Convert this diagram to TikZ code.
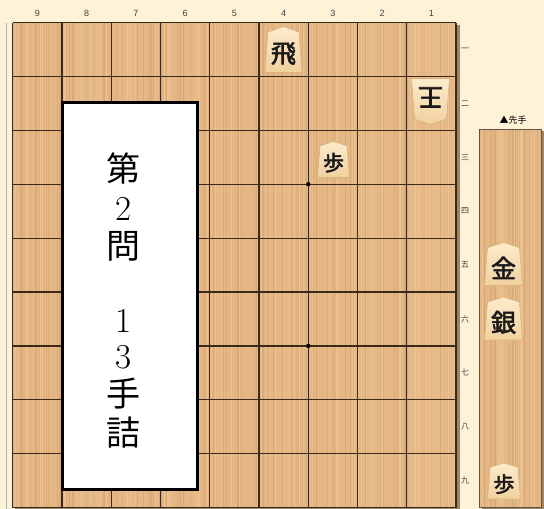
\documentclass[tikz,border=0pt]{standalone}
\usepackage{fontspec}
\newfontfamily\cjk{Noto Sans CJK JP}
\newfontfamily\cjkb{Noto Sans CJK JP}[FakeBold=2.4]
\setsansfont{Liberation Sans}
\definecolor{bgc}{HTML}{FEF3D6}
\definecolor{woodc}{HTML}{E4B784}
\definecolor{woodlight}{HTML}{EFCA9C}
\definecolor{wooddark}{HTML}{D0A06C}
\definecolor{gridc}{HTML}{3A281B}
\definecolor{shadowc}{HTML}{9A8568}
\definecolor{komatop}{HTML}{FCEBCB}
\definecolor{komabot}{HTML}{F1D19F}
\definecolor{komaedge}{HTML}{D9B47E}
\tikzset{
  gridline/.style={draw=gridc, line width=1.2pt},
  grainl/.style={draw=woodlight, line width=0.8pt, opacity=0.55},
  graind/.style={draw=wooddark, line width=0.6pt, opacity=0.5},
  komashape/.style={top color=komatop, bottom color=komabot, draw=komaedge, line width=0.6pt},
  komatext/.style={inner sep=0pt, text=black!90},
  collabel/.style={font=\sffamily\fontsize{9}{10}\selectfont, text=black!75, inner sep=0pt},
  ranklabel/.style={font=\cjk\fontsize{8}{9}\selectfont, text=black!75, inner sep=0pt},
  titlechar/.style={inner sep=0pt, text=black},
  starpt/.style={fill=black},
}
\newcommand\koma[8]{% name, x, y, w, h, char, rotation, fontsize
  \begin{scope}[shift={(#2,#3)}, rotate=#7]
    \path[komashape] ({-#4/2},{#5/2}) -- ({#4/2},{#5/2}) -- ({0.42*#4},{-0.38*#5}) -- (0,{-#5/2}) -- ({-0.42*#4},{-0.38*#5}) -- cycle;
    \node[komatext, rotate=#7, font=\cjkb\fontsize{#8}{#8}\selectfont] (#1) at (0,{0.09*#5}) {#6};
  \end{scope}}
\begin{document}
\begin{tikzpicture}[x=1pt,y=-1pt]
\useasboundingbox (0,0) rectangle (544,509);
\fill[bgc] (0,0) rectangle (544,509);
\draw[draw=black!30, line width=0.6pt] (6,23) -- (6,509);
% board shadow
\fill[shadowc] (456,25) rectangle (459.5,509);
\fill[shadowc] (15,507.6) rectangle (459.5,509);
% board
\fill[woodc] (12.8,22.5) rectangle (456,507.6);
\pgfmathsetseed{7}
\foreach \i in {1,...,90}{
  \pgfmathsetmacro\gx{13.5+441.5*rnd}
  \draw[grainl] (\gx,22.5) -- (\gx,507.6);
}
\foreach \i in {1,...,80}{
  \pgfmathsetmacro\gx{13.5+441.5*rnd}
  \draw[graind] (\gx,22.5) -- (\gx,507.6);
}
\foreach \k in {0,...,9}{
  \draw[gridline] ({12.8+49.25*\k},22.5) -- ({12.8+49.25*\k},507.6);
  \draw[gridline] (12.8,{22.5+53.9*\k}) -- (456,{22.5+53.9*\k});
}
\fill[starpt] (160.5,184.2) circle (2.2);
\fill[starpt] (308.3,184.2) circle (2.2);
\fill[starpt] (160.5,345.9) circle (2.2);
\fill[starpt] (308.3,345.9) circle (2.2);
% column labels
\foreach \n in {1,...,9}{
  \node[collabel] (c\n) at ({12.8+49.25*(9-\n)+24.6},13) {\n};
}
% rank labels
\foreach \n/\t in {1/一,2/二,3/三,4/四,5/五,6/六,7/七,8/八,9/九}{
  \node[ranklabel] (r\n) at (465,{22.5+53.9*(\n-0.5)}) {\t};
}
% komadai
\fill[shadowc] (482,131) rectangle (544,509);
\fill[woodc] (479,129) rectangle (541,507);
\begin{scope}
\clip (479,129) rectangle (541,507);
\pgfmathsetseed{11}
\foreach \i in {1,...,18}{
  \pgfmathsetmacro\gx{479.5+61*rnd}
  \draw[grainl] (\gx,129) -- (\gx,507);
}
\foreach \i in {1,...,16}{
  \pgfmathsetmacro\gx{479.5+61*rnd}
  \draw[graind] (\gx,129) -- (\gx,507);
}
\end{scope}
\draw[draw=gridc!80, line width=0.8pt] (479,129) rectangle (541,507);
\node[font=\cjk\fontsize{9}{10}\selectfont, inner sep=0pt] (sente) at (513,120.5) {▲先手};
% pieces on board
\koma{hi}{283.5}{49.5}{37}{46}{飛}{0}{25}
\koma{ou}{430.5}{101.5}{38}{46}{王}{180}{25}
\koma{fu}{333.5}{159.5}{32}{36}{歩}{0}{21}
% pieces in hand
\koma{kin}{503.5}{264}{38}{43}{金}{0}{25}
\koma{gin}{503.5}{318.5}{38}{43}{銀}{0}{25}
\koma{fuh}{504}{481}{33}{36}{歩}{0}{21}
% title box
\draw[fill=white, draw=black, line width=2.8pt] (62.5,102.5) rectangle (197.5,489.5);
\node[titlechar, font=\cjk\fontsize{34}{34}\selectfont] (t1) at (123.5,168) {第};
\node[titlechar, font=\fontsize{35}{35}\selectfont] (t2) at (123.5,209) {2};
\node[titlechar, font=\cjk\fontsize{34}{34}\selectfont] (t3) at (123.5,246) {問};
\node[titlechar, font=\fontsize{35}{35}\selectfont] (t4) at (123.5,321) {1};
\node[titlechar, font=\fontsize{35}{35}\selectfont] (t5) at (123.5,357.5) {3};
\node[titlechar, font=\cjk\fontsize{34}{34}\selectfont] (t6) at (123.5,394) {手};
\node[titlechar, font=\cjk\fontsize{34}{34}\selectfont] (t7) at (123.5,433) {詰};
\end{tikzpicture}
\end{document}
